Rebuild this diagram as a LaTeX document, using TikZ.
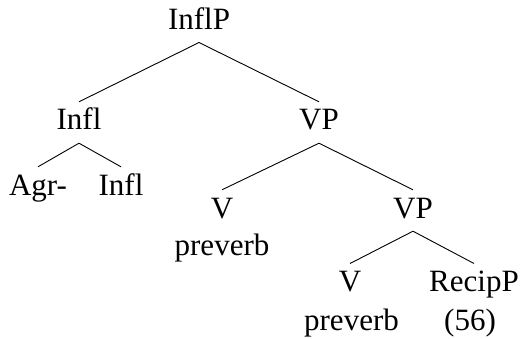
\documentclass[tikz,border=0pt]{standalone}
\usepackage{fontspec}
\setmainfont{Liberation Serif}
\begin{document}
\begin{tikzpicture}[x=1pt,y=-1pt,
  lbl/.style={anchor=base,inner xsep=0pt,inner ysep=6pt,text height=22pt,text depth=7pt,font=\fontsize{31}{37}\selectfont},
  edge/.style={line width=0.9pt}]
\useasboundingbox (0,0) rectangle (524,339);
\node[lbl] (inflp) at (199,29.3) {InflP};
\node[lbl] (infl) at (79,130) {Infl};
\node[lbl] (vp) at (319,130) {VP};
\node[lbl] (agr) at (38,195) {Agr-};
\node[lbl] (infl2) at (121,195) {Infl};
\node[lbl] (v1) at (222,218) {V};
\node[lbl] (vp2) at (413,218) {VP};
\node[lbl] (pv1) at (222,255) {preverb};
\node[lbl] (v2) at (350,291.7) {V};
\node[lbl] (recip) at (474,291.7) {RecipP};
\node[lbl] (pv2) at (351.5,330) {preverb};
\node[lbl] (num) at (470,330) {(56)};
\draw[edge] (inflp.south) -- (infl.north);
\draw[edge] (inflp.south) -- (vp.north);
\draw[edge] (infl.south) -- (agr.north);
\draw[edge] (infl.south) -- (infl2.north);
\draw[edge] (vp.south) -- (v1.north);
\draw[edge] (vp.south) -- (vp2.north);
\draw[edge] (vp2.south) -- (v2.north);
\draw[edge] (vp2.south) -- (recip.north);
\end{tikzpicture}
\end{document}
